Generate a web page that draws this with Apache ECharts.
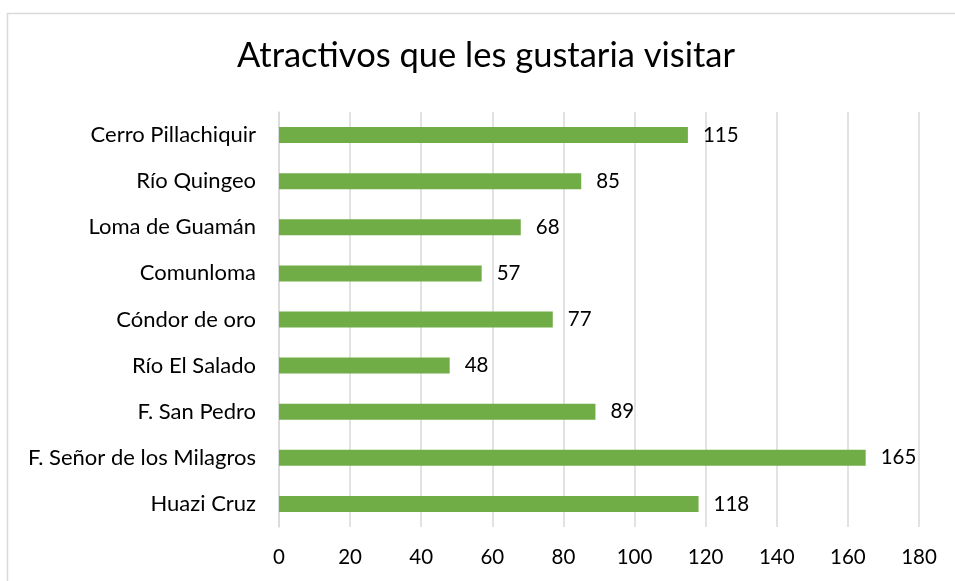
<!DOCTYPE html>
<html><head><meta charset="utf-8">
<script src="https://cdn.jsdelivr.net/npm/echarts@6/dist/echarts.min.js"></script>
<style>html,body{margin:0;padding:0;background:#fff}#c{width:955px;height:581px}</style>
</head><body><div id="c"></div>
<script>
const categories = ["Cerro Pillachiquir","Río Quingeo","Loma de Guamán","Comunloma","Cóndor de oro","Río El Salado","F. San Pedro","F. Señor de los Milagros","Huazi Cruz"];
const values = [115,85,68,57,77,48,89,165,118];
const xTicks = [0,180,20];
const titleText = "Atractivos que les gustaria visitar";

const chart = echarts.init(document.getElementById('c'));
const FONT = 'Lato';
chart.setOption({
  animation:false,
  backgroundColor:'#fff',
  title:{text:titleText,left:232,top:33,textStyle:{fontFamily:FONT,fontWeight:'normal',fontSize:34.5,color:'#000'}},
  graphic:[{type:'rect',shape:{x:7.5,y:13.5,width:1000,height:700},style:{fill:'none',stroke:'#d9d9d9',lineWidth:1.5},silent:true}],
  grid:{left:279,right:36,top:112,bottom:54,containLabel:false},
  xAxis:{type:'value',min:xTicks[0],max:xTicks[1],interval:xTicks[2],
    axisLine:{show:false},axisTick:{show:false},
    axisLabel:{fontFamily:FONT,fontSize:20.5,color:'#000',margin:20},
    splitLine:{lineStyle:{color:'#d9d9d9',width:1.5}}},
  yAxis:{type:'category',data:categories,inverse:true,
    axisLine:{show:true,lineStyle:{color:'#d9d9d9',width:1.5}},axisTick:{show:false},
    axisLabel:{fontFamily:FONT,fontSize:22,color:'#000',margin:23}},
  series:[{type:'bar',data:values,barWidth:16,itemStyle:{color:'#70ad47'},
    label:{show:true,position:'right',distance:15,fontFamily:FONT,fontSize:20.5,color:'#000'}}]
});
</script></body></html>
